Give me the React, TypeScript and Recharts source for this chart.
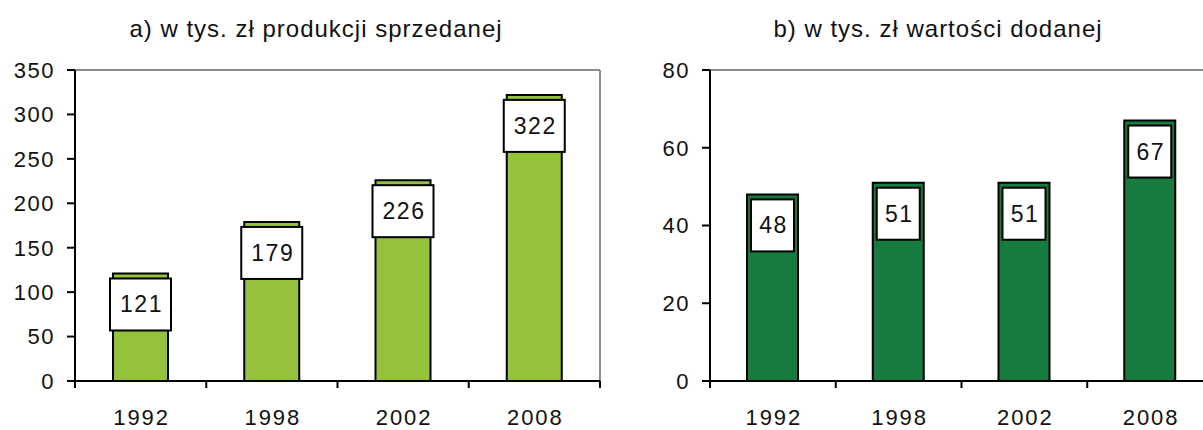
import { ComposedChart, Bar, XAxis, YAxis, ReferenceLine, LabelList } from 'recharts';

const years = ['1992', '1998', '2002', '2008'];
const salesValues = [121, 179, 226, 322];
const addedValues = [48, 51, 51, 67];
const salesTicks = [0, 50, 100, 150, 200, 250, 300, 350];
const addedTicks = [0, 20, 40, 60, 80];

const salesData = years.map((year, i) => ({ year, value: salesValues[i] }));
const addedData = years.map((year, i) => ({ year, value: addedValues[i] }));

const FONT = '"Liberation Sans", Arial, sans-serif';
const tickStyle = { fill: '#111', fontSize: 22, fontFamily: FONT, letterSpacing: 1.5 };

function boxLabel(grow: number) {
  return (props: any) => {
    const { x, y, width, value } = props;
    const bx = x - grow;
    const bw = width + grow * 2;
    return (
      <g>
        <rect x={bx} y={y + 5} width={bw} height={52} fill="#fff" stroke="#000" strokeWidth={2} />
        <text x={bx + bw / 2 + 1} y={y + 31} textAnchor="middle" dominantBaseline="central"
          fontSize={23} letterSpacing={1.5} fontFamily={FONT} fill="#111">{value}</text>
      </g>
    );
  };
}

// year label centred in the band, tick marks on the band edges (Excel style)
function YearTick(props: any) {
  const { x, y, payload, index } = props;
  const half = payload?.offset ?? 0;
  const last = index === years.length - 1;
  return (
    <g>
      <line x1={x - half} x2={x - half} y1={y} y2={y + 7} stroke="#000" strokeWidth={2} />
      {last && <line x1={x + half} x2={x + half} y1={y} y2={y + 7} stroke="#000" strokeWidth={2} />}
      <text x={x + 1} y={y + 44} textAnchor="middle" {...tickStyle} letterSpacing={2}>{payload.value}</text>
    </g>
  );
}

interface PanelProps {
  data: { year: string; value: number }[];
  ticks: number[];
  max: number;
  fill: string;
  barSize: number;
  grow: number;
  width: number;
  yWidth: number;
  marginRight: number;
}

function Panel({ data, ticks, max, fill, barSize, grow, width, yWidth, marginRight }: PanelProps) {
  return (
    <ComposedChart width={width} height={430} data={data}
      margin={{ top: 70, right: marginRight, left: 0, bottom: 0 }} barCategoryGap={0}>
      <XAxis dataKey="year" height={49} axisLine={{ stroke: '#000', strokeWidth: 2 }}
        tickLine={false} tickSize={0} tickMargin={0} tick={<YearTick />} interval={0} />
      <YAxis domain={[0, max]} ticks={ticks} width={yWidth} interval={0}
        axisLine={{ stroke: '#000', strokeWidth: 2 }} tickLine={{ stroke: '#000', strokeWidth: 2 }}
        tickSize={8} tick={tickStyle} tickMargin={12} allowDataOverflow />
      <ReferenceLine y={max} stroke="#8c8c8c" strokeWidth={2} />
      <ReferenceLine x={years[years.length - 1]} position="end" stroke="#8c8c8c" strokeWidth={2} />
      <Bar dataKey="value" fill={fill} stroke="#000" strokeWidth={2} barSize={barSize}
        isAnimationActive={false}>
        <LabelList dataKey="value" content={boxLabel(grow)} />
      </Bar>
    </ComposedChart>
  );
}

const titleStyle = {
  position: 'absolute' as const,
  top: 15,
  fontFamily: FONT,
  fontSize: 24,
  letterSpacing: 1,
  color: '#111',
  whiteSpace: 'nowrap' as const,
  transform: 'translateX(-50%)',
};

export default function App() {
  return (
    <div style={{ position: 'fixed', left: 0, top: 0, width: 1203, height: 430, overflow: 'hidden', background: '#fff' }}>
      <div style={{ ...titleStyle, left: 316 }}>a) w tys. zł produkcji sprzedanej</div>
      <div style={{ ...titleStyle, left: 938 }}>b) w tys. zł wartości dodanej</div>
      <div style={{ position: 'absolute', left: 0, top: 0 }}>
        <Panel data={salesData} ticks={salesTicks} max={350} fill="#95c13c" barSize={55}
          grow={3} width={605} yWidth={75} marginRight={5} />
      </div>
      <div style={{ position: 'absolute', left: 640, top: 0 }}>
        <Panel data={addedData} ticks={addedTicks} max={80} fill="#177a3e" barSize={51}
          grow={-4} width={600} yWidth={70} marginRight={27} />
      </div>
    </div>
  );
}
